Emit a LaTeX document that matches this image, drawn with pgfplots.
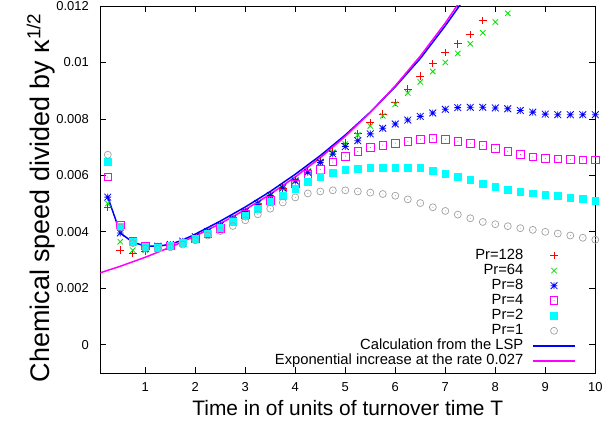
\documentclass[border=0pt]{standalone}
\usepackage{pgfplots}
\pgfplotsset{compat=1.18}
\usepackage{pgfplotstable}
\usepackage{fontspec}
\setmainfont{Liberation Sans}
\definecolor{gpred}{RGB}{255,0,0}
\definecolor{gpgreen}{RGB}{0,225,0}
\definecolor{gpblue}{RGB}{0,0,255}
\definecolor{gpmag}{RGB}{255,0,255}
\definecolor{gpcyan}{RGB}{0,255,255}
\definecolor{gpgray}{RGB}{160,160,160}

\pgfdeclareplotmark{gpstar}{%
  \pgfpathmoveto{\pgfqpoint{-\pgfplotmarksize}{0pt}}\pgfpathlineto{\pgfqpoint{\pgfplotmarksize}{0pt}}%
  \pgfpathmoveto{\pgfqpoint{0pt}{-\pgfplotmarksize}}\pgfpathlineto{\pgfqpoint{0pt}{\pgfplotmarksize}}%
  \pgfpathmoveto{\pgfqpoint{-\pgfplotmarksize}{-\pgfplotmarksize}}\pgfpathlineto{\pgfqpoint{\pgfplotmarksize}{\pgfplotmarksize}}%
  \pgfpathmoveto{\pgfqpoint{-\pgfplotmarksize}{\pgfplotmarksize}}\pgfpathlineto{\pgfqpoint{\pgfplotmarksize}{-\pgfplotmarksize}}%
  \pgfusepathqstroke}
\pgfdeclareplotmark{sqdot}{%
  \pgfpathrectangle{\pgfqpoint{-\pgfplotmarksize}{-\pgfplotmarksize}}{\pgfqpoint{2\pgfplotmarksize}{2\pgfplotmarksize}}%
  \pgfusepathqstroke
  \pgfpathcircle{\pgfpointorigin}{0.5pt}\pgfusepathqfill}
\pgfdeclareplotmark{cdot}{%
  \pgfpathcircle{\pgfpointorigin}{\pgfplotmarksize}\pgfusepathqstroke
  \pgfpathcircle{\pgfpointorigin}{0.5pt}\pgfusepathqfill}

% values in units of 0.001
\pgfplotstableread{
T v
0.25 4.88
0.5 3.35
0.75 3.23
1.0 3.30
1.25 3.38
1.5 3.48
1.75 3.60
2.0 3.77
2.25 3.96
2.5 4.18
2.75 4.42
3.0 4.68
3.25 4.97
3.5 5.27
3.75 5.55
4.0 5.85
4.25 6.18
4.5 6.52
4.75 6.85
5.0 7.14
5.25 7.49
5.5 7.87
5.75 8.17
6.0 8.58
6.25 9.05
6.5 9.52
6.75 9.96
7.0 10.35
7.25 10.66
7.5 10.99
7.75 11.49
}\prA
\pgfplotstableread{
T v
0.25 5.00
0.5 3.65
0.75 3.35
1.0 3.35
1.25 3.42
1.5 3.50
1.75 3.62
2.0 3.79
2.25 3.98
2.5 4.20
2.75 4.43
3.0 4.69
3.25 4.97
3.5 5.26
3.75 5.54
4.0 5.82
4.25 6.15
4.5 6.49
4.75 6.82
5.0 7.11
5.25 7.43
5.5 7.75
5.75 8.11
6.0 8.52
6.25 8.92
6.5 9.31
6.75 9.68
7.0 10.00
7.25 10.32
7.5 10.66
7.75 11.05
8.0 11.43
8.25 11.74
}\prB
\pgfplotstableread{
T v
0.25 5.23
0.5 3.96
0.75 3.62
1.0 3.50
1.25 3.49
1.5 3.55
1.75 3.67
2.0 3.83
2.25 4.01
2.5 4.22
2.75 4.46
3.0 4.72
3.25 5.00
3.5 5.29
3.75 5.56
4.0 5.80
4.25 6.11
4.5 6.46
4.75 6.76
5.0 7.02
5.25 7.23
5.5 7.47
5.75 7.67
6.0 7.82
6.25 7.96
6.5 8.09
6.75 8.21
7.0 8.34
7.25 8.40
7.5 8.41
7.75 8.41
8.0 8.39
8.25 8.36
8.5 8.30
8.75 8.24
9.0 8.17
9.25 8.15
9.5 8.15
9.75 8.15
10.0 8.15
}\prC
\pgfplotstableread{
T v
0.25 5.94
0.5 4.25
0.75 3.66
1.0 3.50
1.25 3.46
1.5 3.50
1.75 3.60
2.0 3.75
2.25 3.93
2.5 4.13
2.75 4.36
3.0 4.61
3.25 4.88
3.5 5.12
3.75 5.36
4.0 5.70
4.25 6.03
4.5 6.21
4.75 6.47
5.0 6.68
5.25 6.85
5.5 6.99
5.75 7.07
6.0 7.14
6.25 7.21
6.5 7.28
6.75 7.31
7.0 7.28
7.25 7.21
7.5 7.14
7.75 7.05
8.0 6.95
8.25 6.84
8.5 6.74
8.75 6.65
9.0 6.60
9.25 6.58
9.5 6.56
9.75 6.55
10.0 6.54
}\prD
\pgfplotstableread{
T v
0.25 6.48
0.5 4.20
0.75 3.65
1.0 3.47
1.25 3.43
1.5 3.50
1.75 3.60
2.0 3.76
2.25 3.95
2.5 4.15
2.75 4.37
3.0 4.57
3.25 4.83
3.5 5.06
3.75 5.27
4.0 5.52
4.25 5.77
4.5 5.96
4.75 6.09
5.0 6.19
5.25 6.23
5.5 6.27
5.75 6.28
6.0 6.28
6.25 6.28
6.5 6.28
6.75 6.15
7.0 6.06
7.25 5.95
7.5 5.85
7.75 5.70
8.0 5.59
8.25 5.49
8.5 5.42
8.75 5.37
9.0 5.31
9.25 5.28
9.5 5.21
9.75 5.17
10.0 5.11
}\prE
\pgfplotstableread{
T v
0.25 6.73
0.5 4.15
0.75 3.60
1.0 3.42
1.25 3.40
1.5 3.45
1.75 3.55
2.0 3.70
2.25 3.87
2.5 4.03
2.75 4.21
3.0 4.41
3.25 4.62
3.5 4.82
3.75 5.04
4.0 5.22
4.25 5.36
4.5 5.43
4.75 5.47
5.0 5.47
5.25 5.43
5.5 5.39
5.75 5.34
6.0 5.28
6.25 5.15
6.5 5.02
6.75 4.87
7.0 4.74
7.25 4.61
7.5 4.48
7.75 4.35
8.0 4.27
8.25 4.20
8.5 4.13
8.75 4.07
9.0 4.00
9.25 3.94
9.5 3.87
9.75 3.79
10.0 3.72
}\prF
\pgfplotstableread{
T v
0.25 5.23
0.5 3.96
0.75 3.63
1.0 3.50
1.25 3.49
1.5 3.56
1.75 3.71
2.0 3.92
2.5 4.38
3.0 4.88
3.5 5.43
4.0 6.04
4.5 6.70
5.0 7.43
5.5 8.24
6.0 9.14
6.5 10.14
7.0 11.30
7.5 12.55
}\lsp
\pgfplotstableread{
T v
0.1 2.55
0.5 2.781
1.0 3.100
1.5 3.455
2.0 3.851
2.5 4.293
3.0 4.785
3.5 5.333
4.0 5.944
4.5 6.625
5.0 7.385
5.5 8.231
6.0 9.174
6.5 10.226
7.0 11.398
7.5 12.70
}\expo

\begin{document}
\begin{tikzpicture}
\begin{axis}[
  name=ax,
  scale only axis,
  width=495bp, height=367bp,
  xmin=0.1, xmax=10, ymin=-1, ymax=12,
  xtick={1,2,...,10},
  ytick={0,2,4,6,8,10,12},
  yticklabels={0,0.002,0.004,0.006,0.008,0.01,0.012},
  /pgf/number format/assume math mode=true,
  tick align=inside,
  major tick length=6bp,
  tick style={black, line width=0.8bp},
  axis line style={line width=0.9bp},
  ticklabel style={font=\fontsize{13}{13}\selectfont},
  xticklabel style={anchor=north, yshift=-6bp},
  yticklabel style={anchor=east, xshift=-8bp},
  every axis x label/.style={at={(rel axis cs:0.5,0)}, anchor=base, yshift=-42bp, font=\fontsize{21}{21}\selectfont},
  every axis y label/.style={at={(rel axis cs:0,0.478)}, xshift=-51bp, rotate=90, anchor=base, font=\fontsize{27}{27}\selectfont},
  xlabel={Time in of units of turnover time T},
  ylabel={Chemical speed divided by κ\textsuperscript{1/2}},
  legend plot pos=right,
  legend cell align=right,
  legend image code/.code={\draw[mark repeat=2,mark phase=2,#1] plot coordinates {(0bp,0bp) (21bp,0bp) (42bp,0bp)};},
  legend style={draw=none, fill=none, at={(rel axis cs:0.961,0.012)}, anchor=south east,
    font=\fontsize{14.8}{15}\selectfont, row sep=0pt, column sep=7bp, inner sep=0pt,
    nodes={text height=10.5pt, text depth=3pt, inner ysep=0.8pt, inner xsep=2pt}},
  clip=true,
]
\addplot[only marks, mark=+, mark size=3.8bp, color=gpred, line width=0.8bp] table[x=T,y=v]{\prA};
\addlegendentry{Pr=128}
\addplot[only marks, mark=x, mark size=3.8bp, color=gpgreen, line width=0.8bp] table[x=T,y=v]{\prB};
\addlegendentry{Pr=64}
\addplot[only marks, mark=gpstar, mark size=3.4bp, color=gpblue, line width=0.8bp] table[x=T,y=v]{\prC};
\addlegendentry{Pr=8}
\addplot[only marks, mark=sqdot, mark size=3.8bp, color=gpmag, line width=0.9bp] table[x=T,y=v]{\prD};
\addlegendentry{Pr=4}
\addplot[only marks, mark=square*, mark size=3.4bp, color=gpcyan, line width=0.5bp] table[x=T,y=v]{\prE};
\addlegendentry{Pr=2}
\addplot[only marks, mark=cdot, mark size=3.5bp, color=gpgray, line width=0.7bp] table[x=T,y=v]{\prF};
\addlegendentry{Pr=1}
\addplot[no marks, color=gpblue, line width=1.5bp] table[x=T,y=v]{\lsp};
\addlegendentry{Calculation from the LSP}
\addplot[no marks, color=gpmag, line width=1.5bp] table[x=T,y=v]{\expo};
\addlegendentry{Exponential increase at the rate 0.027}
\end{axis}
\pgfresetboundingbox
\path (ax.south west) ++(-100.3bp,-55bp) rectangle ++(605bp,428bp);
\end{tikzpicture}
\end{document}
